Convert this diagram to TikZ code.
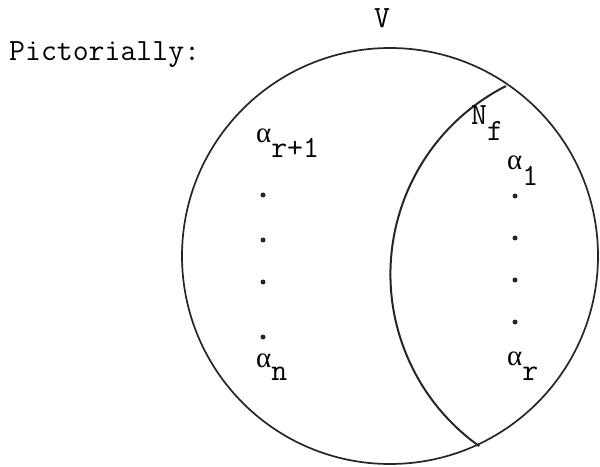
\documentclass[tikz,border=0pt]{standalone}
\usepackage{fontspec}
\newfontfamily\grk{Liberation Serif}
\usepackage{tikz}
\usetikzlibrary{calc}
\newcommand{\alf}{{\grk\fontsize{29}{29}\selectfont α}}

\begin{document}
\begin{tikzpicture}[
  x=1bp, y=-1bp,
  font=\ttfamily\fontsize{31}{31}\selectfont,
  lbl/.style={inner sep=0pt,anchor=base west},
  sub/.style={inner sep=0pt,anchor=base},
  curve/.style={line width=1.7bp,draw=black!85},
  elt/.style={circle,fill=black!85,inner sep=0pt,minimum size=5bp}
]
\useasboundingbox (0,0) rectangle (600,467);
% the set V and the subset N_f
\coordinate (vc) at (390,256);
\coordinate (nftop) at (506,86);
\draw[curve] (vc) circle[radius=208bp];
\draw[curve,line width=2bp] (nftop) arc[start angle=116.9,end angle=234.6,radius=211bp];

\node[lbl] (pict) at (9,61) {Pictorially:};
\node[sub] (vlabel) at (382,28) {V};
\node[lbl] (nf) at (471,125) {N\raisebox{-16bp}{f}};

% elements outside N_f
\node[lbl] (arone) at (256,143) {\alf\raisebox{-15bp}{r+1}};
\node[lbl] (an) at (256,367) {\alf\raisebox{-13bp}{n}};
\foreach \y [count=\i] in {195,240,282,337}
  \node[elt] (ldot\i) at (263,\y) {};

% elements of N_f
\node[lbl] (aone) at (507,170) {\alf\raisebox{-16bp}{1}};
\node[lbl] (ar) at (507,365) {\alf\raisebox{-15bp}{r}};
\foreach \y [count=\i] in {196,238,280,322}
  \node[elt] (rdot\i) at (515,\y) {};
\end{tikzpicture}
\end{document}
